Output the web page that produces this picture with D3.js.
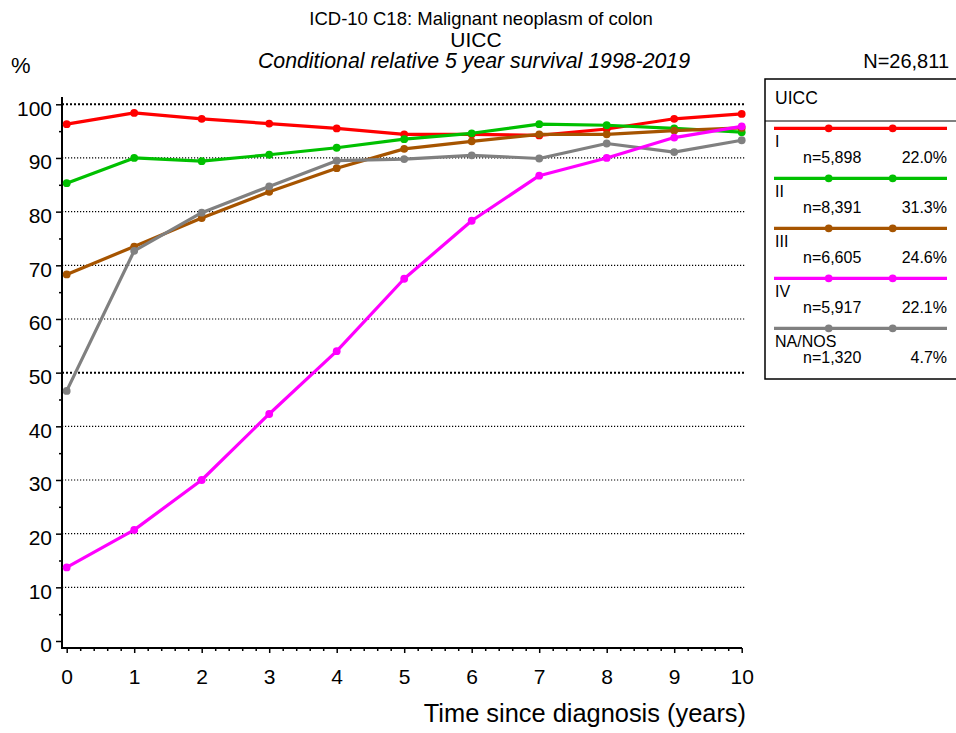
<!DOCTYPE html>
<html><head><meta charset="utf-8">
<script src="https://cdn.jsdelivr.net/npm/d3@7"></script>
<style>
body{margin:0;background:#fff;}
svg{display:block;font-family:"Liberation Sans",Arial,sans-serif;}
</style></head>
<body><svg id="c" width="956" height="733"></svg>
<script>
const years = [0,1,2,3,4,5,6,7,8,9,10];
const stageI   = [96.3,98.4,97.3,96.4,95.5,94.4,94.4,94.2,95.4,97.3,98.2];
const stageII  = [85.3,90.0,89.4,90.6,91.9,93.5,94.6,96.3,96.1,95.5,94.8];
const stageIII = [68.3,73.5,78.8,83.7,88.1,91.7,93.1,94.4,94.4,95.1,95.6];
const stageIV  = [13.7,20.7,30.0,42.3,54.0,67.5,78.3,86.7,90.0,93.8,95.9];
const naNos    = [46.6,72.7,79.8,84.7,89.5,89.8,90.5,89.9,92.7,91.1,93.3];
const seriesNames = ["I","II","III","IV","NA/NOS"];
const seriesCounts = ["n=5,898","n=8,391","n=6,605","n=5,917","n=1,320"];
const seriesPct = ["22.0%","31.3%","24.6%","22.1%","4.7%"];
const seriesColors = ["#ff0000","#00c000","#a65400","#ff00ff","#808080"];
const yTicks = [0,10,20,30,40,50,60,70,80,90,100];
const xTicks = [0,1,2,3,4,5,6,7,8,9,10];
const titleLines = ["ICD-10 C18: Malignant neoplasm of colon","UICC","Conditional relative 5 year survival 1998-2019"];
const totalN = "N=26,811";
const xTitle = "Time since diagnosis (years)";
const yUnit = "%";
const legendTitle = "UICC";

const seriesValues = [stageI, stageII, stageIII, stageIV, naNos];
const series = seriesNames.map((n,i)=>({name:n, color:seriesColors[i], n:seriesCounts[i], pct:seriesPct[i],
  pts: years.map((yr,j)=>({x:yr, y:seriesValues[i][j]}))}));

const svg = d3.select("#c");
const x = d3.scaleLinear().domain([0,10]).range([66.7,741.7]);
const y = d3.scaleLinear().domain([0,100]).range([641,104.3]);
const axX = 62, axY = 648;

// gridlines
svg.append("g").selectAll("line").data(yTicks.filter(d=>d>0)).join("line")
  .attr("x1",axX).attr("x2",745).attr("y1",d=>y(d)).attr("y2",d=>y(d))
  .attr("stroke","#000")
  .attr("stroke-width",d=>(d===50||d===100)?2:1.2)
  .attr("stroke-dasharray",d=>(d===50||d===100)?"2,2":"1.2,1.8");

// y axis
const gy = svg.append("g").attr("transform",`translate(${axX},0)`);
gy.call(d3.axisLeft(y).tickValues(yTicks).tickSize(6).tickSizeOuter(0).tickPadding(4));
gy.select(".domain").remove();
gy.selectAll("text").attr("font-size",21).attr("font-family","Liberation Sans, Arial, sans-serif").attr("fill","#000").attr("dy","0.52em");
gy.selectAll("line").attr("stroke-width",1.5);
const gy2 = svg.append("g").attr("transform",`translate(${axX},0)`);
gy2.call(d3.axisLeft(y).tickValues(d3.range(5,100,10)).tickSize(3).tickSizeOuter(0).tickFormat(""));
gy2.select(".domain").remove();
gy2.selectAll("line").attr("stroke-width",1.5);
svg.append("line").attr("x1",axX).attr("x2",axX).attr("y1",97).attr("y2",axY+1).attr("stroke","#000").attr("stroke-width",2);

// x axis
const gx = svg.append("g").attr("transform",`translate(0,${axY})`);
gx.call(d3.axisBottom(x).tickValues(xTicks).tickSize(5).tickSizeOuter(0).tickPadding(16).tickFormat(d3.format("d")));
gx.select(".domain").remove();
gx.selectAll("text").attr("font-size",21).attr("font-family","Liberation Sans, Arial, sans-serif").attr("fill","#000");
gx.selectAll("line").attr("stroke-width",1.5);
const gx2 = svg.append("g").attr("transform",`translate(0,${axY})`);
gx2.call(d3.axisBottom(x).tickValues(d3.range(0,50).map(i=>i*0.2).filter(v=>Math.abs(v-Math.round(v))>0.01)).tickSize(3).tickSizeOuter(0).tickFormat(""));
gx2.select(".domain").remove();
gx2.selectAll("line").attr("stroke-width",1.5);
svg.append("line").attr("x1",axX-1).attr("x2",742).attr("y1",axY).attr("y2",axY).attr("stroke","#000").attr("stroke-width",2);

// lines
const line = d3.line().x(d=>x(d.x)).y(d=>y(d.y));
const order = [0,1,2,4,3];
order.forEach(i=>{
  const s = series[i];
  const g = svg.append("g");
  g.append("path").attr("d",line(s.pts)).attr("fill","none").attr("stroke",s.color).attr("stroke-width",3.2).attr("stroke-linejoin","round");
  g.selectAll("circle").data(s.pts).join("circle").attr("cx",d=>x(d.x)).attr("cy",d=>y(d.y)).attr("r",3.9).attr("fill",s.color);
});

// titles
const tc = 476;
svg.append("text").attr("x",tc+5).attr("y",25).attr("text-anchor","middle").attr("font-size",18.5).text(titleLines[0]);
svg.append("text").attr("x",tc).attr("y",47).attr("text-anchor","middle").attr("font-size",21).text(titleLines[1]);
svg.append("text").attr("x",tc-2).attr("y",68).attr("text-anchor","middle").attr("font-size",21.3).attr("font-style","italic").text(titleLines[2]);
svg.append("text").attr("x",11).attr("y",73).attr("font-size",22).text(yUnit);
svg.append("text").attr("x",949).attr("y",68).attr("text-anchor","end").attr("font-size",20).text(totalN);
svg.append("text").attr("x",746).attr("y",722).attr("text-anchor","end").attr("font-size",25.4).text(xTitle);

// legend
const lg = svg.append("g");
lg.append("rect").attr("x",765).attr("y",79).attr("width",200).attr("height",300).attr("fill","none").attr("stroke","#000").attr("stroke-width",1.5);
lg.append("line").attr("x1",765).attr("x2",960).attr("y1",121).attr("y2",121).attr("stroke","#000").attr("stroke-width",1);
lg.append("text").attr("x",775).attr("y",104).attr("font-size",17.5).text(legendTitle);
series.forEach((s,i)=>{
  const ly = 128.3 + i*50;
  lg.append("line").attr("x1",774).attr("x2",947).attr("y1",ly).attr("y2",ly).attr("stroke",s.color).attr("stroke-width",3.2);
  [828.7,892.7].forEach(cx=>lg.append("circle").attr("cx",cx).attr("cy",ly).attr("r",3.9).attr("fill",s.color));
  lg.append("text").attr("x",775).attr("y",ly+19).attr("font-size",16).text(s.name);
  lg.append("text").attr("x",803).attr("y",ly+35).attr("font-size",16).text(s.n);
  lg.append("text").attr("x",947).attr("y",ly+35).attr("text-anchor","end").attr("font-size",16).text(s.pct);
});
</script></body></html>
